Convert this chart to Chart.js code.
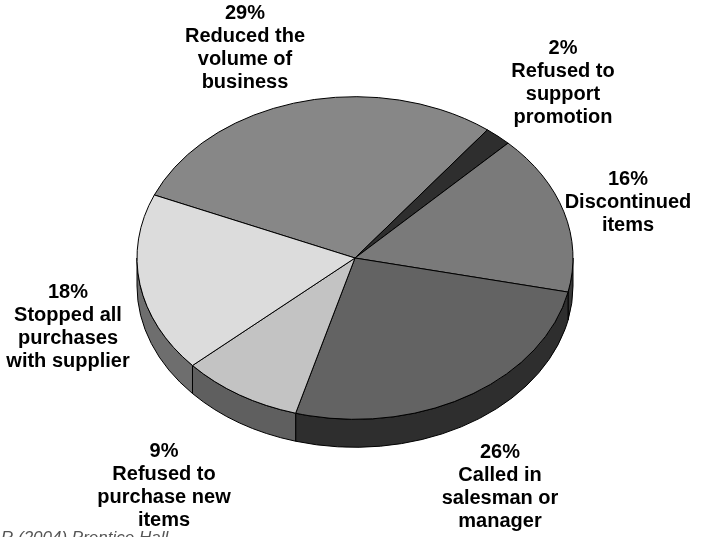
<!DOCTYPE html>
<html lang="en">
<head>
    <meta charset="UTF-8">
    <title>Supplier responses</title>
    <script src="https://cdn.jsdelivr.net/npm/chart.js"></script>
    <style>
        html, body {
            margin: 0;
            padding: 0;
            background: #ffffff;
            overflow: hidden;
        }
        #chart {
            display: block;
        }
    </style>
</head>
<body>
    <canvas id="chart" width="704" height="537"></canvas>

    <script>
        // data, clockwise from the left boundary of the biggest slice
        const categories = [
            ['Reduced the', 'volume of', 'business'],
            ['Refused to', 'support', 'promotion'],
            ['Discontinued', 'items'],
            ['Called in', 'salesman or', 'manager'],
            ['Refused to', 'purchase new', 'items'],
            ['Stopped all', 'purchases', 'with supplier']
        ];
        const percents = [29, 2, 16, 26, 9, 18];

        // look
        const topColors = ['#878787', '#2e2e2e', '#7a7a7a', '#636363', '#c3c3c3', '#dcdcdc'];
        const sideColors = ['#555555', '#1e1e1e', '#383838', '#2e2e2e', '#5f5f5f', '#6e6e6e'];
        // label anchors (centre of the first line)
        const labelPos = [[245, 13], [563, 48], [628, 179], [500, 452], [164, 451], [68, 292]];
        const TILT = 0.74;   // ry / rx
        const DEPTH = 28;
        const LINE_H = 23;

        const pie3d = {
            id: 'pie3d',
            beforeDatasetsDraw(chart) {
                const ctx = chart.ctx;
                const arcs = chart.getDatasetMeta(0).data;
                const cx = arcs[0].x, cy = arcs[0].y;
                const rx = arcs[0].outerRadius, ry = rx * TILT;
                const TAU = Math.PI * 2;

                ctx.save();
                ctx.lineWidth = 1;
                ctx.strokeStyle = '#000';
                ctx.lineJoin = 'round';

                // side walls (front half only)
                arcs.forEach((arc, i) => {
                    let s = arc.startAngle % TAU;
                    if (s < 0) s += TAU;
                    const e = s + (arc.endAngle - arc.startAngle);
                    [[0, Math.PI], [TAU, TAU + Math.PI]].forEach(([lo, hi]) => {
                        const a1 = Math.max(s, lo), a2 = Math.min(e, hi);
                        if (a2 <= a1) return;
                        ctx.beginPath();
                        ctx.ellipse(cx, cy, rx, ry, 0, a1, a2);
                        ctx.lineTo(cx + rx * Math.cos(a2), cy + ry * Math.sin(a2) + DEPTH);
                        ctx.ellipse(cx, cy + DEPTH, rx, ry, 0, a2, a1, true);
                        ctx.closePath();
                        ctx.fillStyle = sideColors[i];
                        ctx.fill();
                        ctx.stroke();
                    });
                });

                // top faces
                arcs.forEach((arc, i) => {
                    ctx.beginPath();
                    ctx.moveTo(cx, cy);
                    ctx.ellipse(cx, cy, rx, ry, 0, arc.startAngle, arc.endAngle);
                    ctx.closePath();
                    ctx.fillStyle = topColors[i];
                    ctx.fill();
                    ctx.stroke();
                });

                // labels
                ctx.fillStyle = '#000';
                ctx.font = 'bold 20px "Liberation Sans", Arial, sans-serif';
                ctx.textAlign = 'center';
                ctx.textBaseline = 'middle';
                const values = chart.data.datasets[0].data;
                values.forEach((v, i) => {
                    const lines = [v + '%'].concat(chart.data.labels[i]);
                    const [lx, ly] = labelPos[i];
                    lines.forEach((t, k) => ctx.fillText(t, lx, ly + k * LINE_H));
                });

                // source line, cut by the bottom edge
                ctx.font = 'italic 17px "Liberation Sans", Arial, sans-serif';
                ctx.fillStyle = '#555';
                ctx.textAlign = 'left';
                ctx.textBaseline = 'alphabetic';
                ctx.fillText('R (2004) Prentice Hall', 1, 543);

                ctx.restore();
                return false;
            }
        };

        new Chart(document.getElementById('chart'), {
            type: 'pie',
            data: {
                labels: categories,
                datasets: [{
                    data: percents,
                    backgroundColor: topColors,
                    borderWidth: 0
                }]
            },
            options: {
                responsive: false,
                animation: false,
                rotation: -67,
                layout: {
                    padding: { left: 137, right: 131, top: 40, bottom: 61 }
                },
                plugins: {
                    legend: { display: false },
                    tooltip: { enabled: false }
                }
            },
            plugins: [pie3d]
        });
    </script>
</body>
</html>
